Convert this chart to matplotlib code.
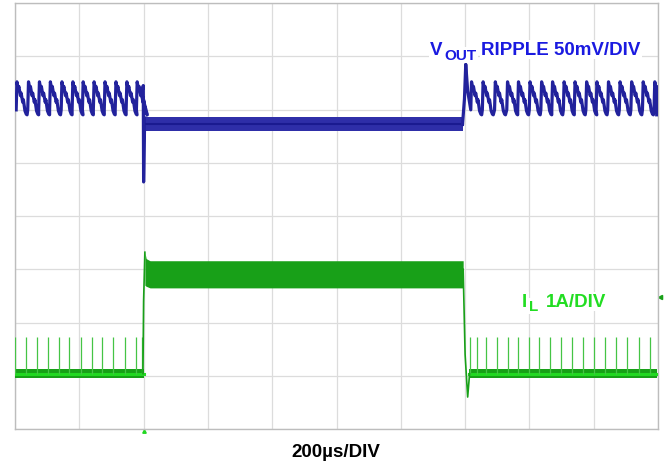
import numpy as np
import matplotlib
matplotlib.use("Agg")
import matplotlib.pyplot as plt

plt.rcParams['font.family'] = ['Liberation Sans', 'DejaVu Sans']

# screen is 10 x 8 divisions, y centred on 0
# --- V_OUT ripple (divisions) ---
vout_peaks_before = [0.03, 0.21, 0.38, 0.55, 0.73, 0.90, 1.06, 1.23, 1.40, 1.57, 1.74, 1.90]
vout_peaks_after = [7.10, 7.28, 7.47, 7.66, 7.83, 8.01, 8.19, 8.36, 8.54, 8.71,
                    8.89, 9.05, 9.23, 9.41, 9.59, 9.77, 9.95]
vout_hi, vout_lo = 2.52, 1.90
# one ripple tooth: offset from peak, fraction of peak-to-trough
tooth_dt = [-0.012, 0.0, 0.02, 0.03, 0.055, 0.065, 0.09, 0.10, 0.125, 0.145, 0.158]
tooth_f = [0.15, 1.0, 0.78, 0.86, 0.58, 0.66, 0.38, 0.46, 0.12, 0.02, 0.0]
# burst (light-load) section
vout_band_x = [2.03, 6.96]
vout_band_lo = [1.60, 1.60]
vout_band_hi = [1.86, 1.86]
# transition edges
vout_edge1_x = [1.97, 1.995, 2.0, 2.015, 2.03]
vout_edge1_y = [2.30, 2.45, 0.64, 1.70, 1.84]
vout_edge2_x = [6.96, 6.99, 7.01, 7.04, 7.08]
vout_edge2_y = [1.72, 2.20, 2.85, 2.35, 2.05]

# --- inductor current ---
il_base = -2.96
il_base_w = 0.09
il_spike_top = -2.27
il_spikes_before = [0.0, 0.17, 0.34, 0.51, 0.68, 0.84, 1.02, 1.19, 1.36, 1.53, 1.71, 1.88, 1.98]
il_spikes_after = [7.07, 7.18, 7.33, 7.49, 7.66, 7.83, 7.99, 8.15, 8.32, 8.49,
                   8.66, 8.83, 9.00, 9.17, 9.35, 9.52, 9.70, 9.87]
il_band_x = [2.02, 2.04, 2.10, 6.97]
il_band_lo = [-1.30, -1.32, -1.35, -1.35]
il_band_hi = [-0.68, -0.80, -0.84, -0.84]
il_rise_x = [1.99, 2.0, 2.02]
il_rise_y = [il_base, -1.6, -0.68]
il_fall_x = [6.97, 7.0, 7.04, 7.07]
il_fall_y = [-1.0, -2.6, -3.40, il_base]

BLUE_TRACE = '#22229c'
BLUE_TEXT = '#1a1ae0'
GREEN_TRACE = '#18a018'
GREEN_LIGHT = '#22d822'
GREEN_TEXT = '#22dd22'


def ripple(peaks):
    xs, ys = [], []
    for p in peaks:
        for dt, f in zip(tooth_dt, tooth_f):
            xs.append(p + dt)
            ys.append(vout_lo + f * (vout_hi - vout_lo))
    return xs, ys


fig = plt.figure(figsize=(6.65, 4.64), dpi=100)
ax = fig.add_axes([15 / 665, 1 - 430 / 464, 643 / 665, 426 / 464])
ax.set_xlim(0, 10)
ax.set_ylim(-4, 4)
ax.set_xticks(np.arange(0, 11))
ax.set_yticks(np.arange(-4, 5))
ax.tick_params(length=0, labelbottom=False, labelleft=False)
ax.grid(True, color='#dcdcdc', lw=0.9)
for s in ax.spines.values():
    s.set_color('#bdbdbd')
    s.set_linewidth(1.0)

# V_OUT trace
x1, y1 = ripple(vout_peaks_before)
x1 = [max(v, 0) for v in x1]
ax.plot(x1 + vout_edge1_x, y1 + vout_edge1_y, color=BLUE_TRACE, lw=2.3, zorder=3)
ax.fill_between(vout_band_x, vout_band_lo, vout_band_hi, color='#2e2ea8', lw=0, zorder=3)
ax.plot(vout_band_x, [1.73, 1.73], color='#1a1a90', lw=1.5, zorder=3)
x2, y2 = ripple(vout_peaks_after)
x2 = [min(v, 9.98) for v in x2]
ax.plot(vout_edge2_x + x2, vout_edge2_y + y2, color=BLUE_TRACE, lw=2.3, zorder=3)

# I_L trace
ax.fill_between([0, 2.0], il_base - il_base_w, il_base + il_base_w, color=GREEN_TRACE, lw=0, zorder=3)
ax.plot([0, 2.0], [il_base, il_base], color=GREEN_LIGHT, lw=2.2, zorder=3)
ax.fill_between([7.06, 9.98], il_base - il_base_w, il_base + il_base_w, color=GREEN_TRACE, lw=0, zorder=3)
ax.plot([7.06, 9.98], [il_base, il_base], color=GREEN_LIGHT, lw=2.2, zorder=3)
ax.vlines(il_spikes_before + il_spikes_after, il_base, il_spike_top, color='#45c445', lw=0.9, zorder=3)
ax.fill_between(il_band_x, il_band_lo, il_band_hi, color=GREEN_TRACE, lw=0, zorder=3)
ax.plot(il_rise_x, il_rise_y, color=GREEN_TRACE, lw=1.2, zorder=3)
ax.plot(il_fall_x, il_fall_y, color=GREEN_TRACE, lw=1.2, zorder=3)

# channel markers
ax.plot([10.03], [-1.52], marker='<', ms=3, color=GREEN_TRACE, clip_on=False)
ax.plot([2.0], [-4.03], marker='^', ms=2.5, color=GREEN_LIGHT, clip_on=False)

# labels (figure pixel positions)
def ftext(px, py, s, **kw):
    fig.text(px / 665, 1 - py / 464, s, fontweight='bold', **kw)

bb = dict(facecolor='white', edgecolor='none', pad=1)
ftext(430, 55, 'V', color=BLUE_TEXT, fontsize=13.5, va='baseline', bbox=bb)
ftext(444, 60, 'OUT', color=BLUE_TEXT, fontsize=11, va='baseline', bbox=bb)
ftext(481, 55, 'RIPPLE 50mV/DIV', color=BLUE_TEXT, fontsize=13.5, va='baseline', bbox=bb)
ftext(522, 307, 'I', color=GREEN_TEXT, fontsize=13.5, va='baseline', bbox=bb)
ftext(529, 311, 'L', color=GREEN_TEXT, fontsize=11, va='baseline', bbox=bb)
ftext(546, 307, '1A/DIV', color=GREEN_TEXT, fontsize=13.5, va='baseline', bbox=bb)
ftext(336, 457, '200µs/DIV', color='black', fontsize=13.5, va='baseline', ha='center')

fig.savefig('out.png', dpi=100)
